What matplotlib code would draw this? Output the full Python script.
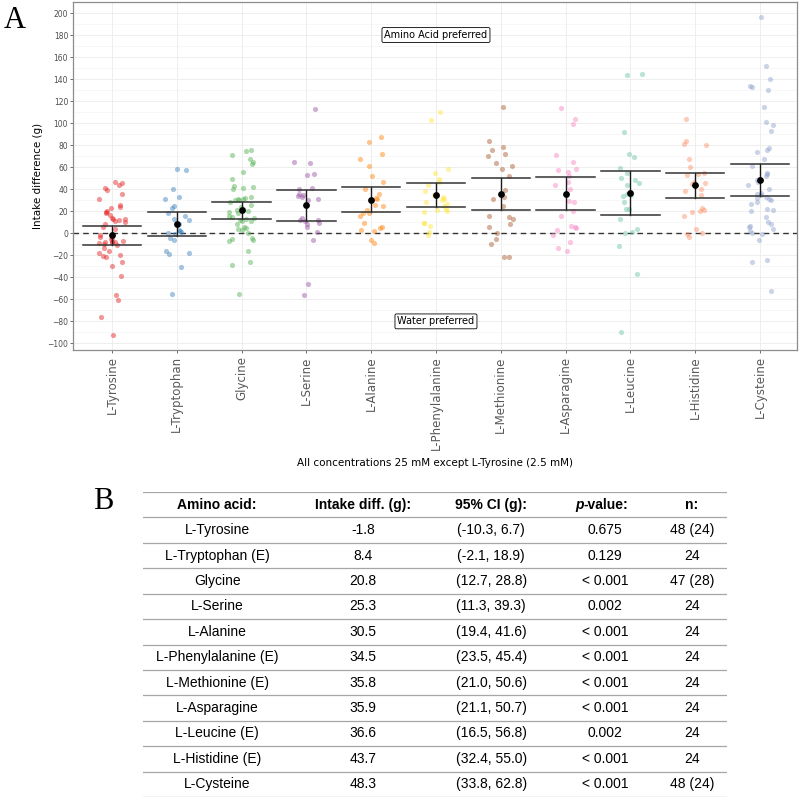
import numpy as np
import matplotlib
matplotlib.use('Agg')
import matplotlib.pyplot as plt
from matplotlib.ticker import MultipleLocator

# ---- data ----
amino = ['L-Tyrosine', 'L-Tryptophan', 'Glycine', 'L-Serine', 'L-Alanine', 'L-Phenylalanine',
         'L-Methionine', 'L-Asparagine', 'L-Leucine', 'L-Histidine', 'L-Cysteine']
amino_table = ['L-Tyrosine', 'L-Tryptophan (E)', 'Glycine', 'L-Serine', 'L-Alanine',
               'L-Phenylalanine (E)', 'L-Methionine (E)', 'L-Asparagine', 'L-Leucine (E)',
               'L-Histidine (E)', 'L-Cysteine']
intake_diff = [-1.8, 8.4, 20.8, 25.3, 30.5, 34.5, 35.8, 35.9, 36.6, 43.7, 48.3]
ci_low = [-10.3, -2.1, 12.7, 11.3, 19.4, 23.5, 21.0, 21.1, 16.5, 32.4, 33.8]
ci_high = [6.7, 18.9, 28.8, 39.3, 41.6, 45.4, 50.6, 50.7, 56.8, 55.0, 62.8]
p_values = ['0.675', '0.129', '< 0.001', '0.002', '< 0.001', '< 0.001', '< 0.001',
            '< 0.001', '0.002', '< 0.001', '< 0.001']
n_text = ['48 (24)', '24', '47 (28)', '24', '24', '24', '24', '24', '24', '24', '48 (24)']

tyrosine = [47, 46, 44, 41, 39, 36, 31, 26, 24, 23, 20, 19, 18, 17, 14, 13, 13, 12, 11, 10,
            8, 6, 4, -2, -3, -4, -5, -7, -8, -8, -8, -8, -9, -10, -11, -13, -16, -18, -20,
            -21, -22, -26, -30, -39, -56, -61, -76, -92]
tryptophan = [58, 57, 40, 33, 31, 25, 23, 18, 16, 13, 12, 8, 3, 2, 1, 0, -1, -4, -6, -16,
              -18, -19, -31, -55]
glycine = [76, 75, 71, 67, 65, 63, 56, 49, 43, 42, 41, 40, 33, 32, 31, 31, 30, 30, 28, 26,
           24, 22, 21, 20, 19, 18, 16, 15, 14, 13, 12, 11, 11, 8, 6, 5, 4, 3, 0, -4, -5,
           -6, -7, -16, -26, -29, -55]
serine = [113, 65, 64, 54, 53, 41, 40, 36, 35, 34, 33, 31, 30, 14, 12, 12, 11, 9, 8, 6, 1,
          -6, -46, -56]
alanine = [87, 83, 72, 67, 61, 52, 47, 40, 36, 32, 31, 26, 25, 21, 18, 18, 16, 9, 6, 5, 3,
           2, -6, -9]
phenylalanine = [110, 103, 58, 55, 49, 47, 44, 38, 35, 33, 31, 30, 28, 27, 25, 22, 21, 20,
                 19, 9, 9, 7, 1, -2]
methionine = [115, 84, 78, 76, 72, 70, 64, 61, 58, 52, 39, 33, 31, 25, 16, 15, 13, 8, 6, 0,
              -5, -10, -22, -22]
asparagine = [114, 104, 99, 71, 65, 58, 57, 56, 52, 47, 44, 40, 29, 28, 20, 16, 7, 6, 5, 3,
              -2, -8, -13, -16]
leucine = [145, 144, 92, 72, 69, 59, 55, 50, 48, 46, 44, 36, 35, 34, 28, 22, 22, 13, 4, 1,
           0, -12, -37, -90]
histidine = [104, 84, 81, 80, 67, 60, 55, 54, 53, 47, 46, 45, 40, 38, 35, 23, 21, 20, 19,
             16, 4, 0, -1, -3]
cysteine = [196, 152, 140, 134, 133, 130, 115, 101, 98, 93, 77, 76, 74, 67, 61, 55, 54, 52,
            49, 48, 47, 44, 40, 37, 36, 35, 33, 32, 31, 30, 28, 27, 22, 21, 20, 15, 10, 8,
            7, 6, 4, 2, 0, -1, -6, -24, -26, -52]
groups = [tyrosine, tryptophan, glycine, serine, alanine, phenylalanine, methionine,
          asparagine, leucine, histidine, cysteine]

colors = ['#E41A1C', '#377EB8', '#4DAF4A', '#984EA3', '#FF7F00', '#FFE433',
          '#A65628', '#F781BF', '#66C2A5', '#FC8D62', '#8DA0CB']

# ---- figure ----
fig = plt.figure(figsize=(8, 8), dpi=100)
ax = fig.add_axes([73/800, 1 - 350/800, 724/800, 348/800])

rng = np.random.default_rng(7)
for i, vals in enumerate(groups):
    jit = rng.uniform(-0.2, 0.2, len(vals))
    ax.scatter(i + jit, vals, s=14, color=colors[i], alpha=0.45, linewidths=0, zorder=3)

xs = np.arange(len(amino))
for i in xs:
    ax.plot([i, i], [ci_low[i], ci_high[i]], color='#1a1a1a', lw=1, zorder=4)
    ax.plot([i - 0.45, i + 0.45], [ci_low[i], ci_low[i]], color='#333333', lw=1.1, zorder=4)
    ax.plot([i - 0.45, i + 0.45], [ci_high[i], ci_high[i]], color='#333333', lw=1.1, zorder=4)
ax.scatter(xs, intake_diff, s=15, color='black', zorder=5)

ax.axhline(0, color='#333333', lw=1, ls=(0, (4, 3)), zorder=2)

ax.set_xlim(-0.6, 10.57)
ax.set_ylim(-106, 210)
ax.set_xticks(xs)
ax.set_xticklabels(amino, rotation=90, fontsize=8.5, color='#595959')
ax.yaxis.set_major_locator(MultipleLocator(20))
ax.yaxis.set_minor_locator(MultipleLocator(10))
ax.tick_params(axis='y', labelsize=5.5, labelcolor='#4d4d4d', length=2.5, width=0.5,
               color='#333333', pad=1)
ax.tick_params(axis='y', which='minor', length=0)
ax.tick_params(axis='x', length=2.5, width=0.5, color='#333333', pad=2)
ax.grid(which='major', color='#EBEBEB', lw=0.6, zorder=0)
ax.grid(which='minor', axis='y', color='#F2F2F2', lw=0.4, zorder=0)
ax.set_axisbelow(True)
for sp in ax.spines.values():
    sp.set_color('#8c8c8c')
    sp.set_linewidth(0.9)

ax.set_ylabel('Intake difference (g)', fontsize=7.5, labelpad=3)
ax.set_xlabel('All concentrations 25 mM except L-Tyrosine (2.5 mM)', fontsize=7.5, labelpad=6)

box = dict(boxstyle='round,pad=0.25,rounding_size=0.15', fc='white', ec='black', lw=0.6)
ax.text(5, 180, 'Amino Acid preferred', ha='center', va='center', fontsize=7, bbox=box, zorder=6)
ax.text(5, -80, 'Water preferred', ha='center', va='center', fontsize=7, bbox=box, zorder=6)

fig.text(15/800, 1 - 20/800, 'A', fontsize=22, family='Liberation Serif', ha='center', va='center')
fig.text(103/800, 1 - 502/800, 'B', fontsize=22, family='Liberation Serif', ha='center', va='center')

# ---- table ----
tab = fig.add_axes([143/800, 1 - 797/800, 584/800, 305/800])
tab.set_xlim(0, 1)
tab.set_ylim(12, 0)
tab.axis('off')
col_x = [0.127, 0.377, 0.596, 0.791, 0.940]
tf = 'Liberation Sans'
fs = 10
for k in range(13):
    tab.axhline(k, color='#a6a6a6', lw=0.9)
hdr_y = 0.5
tab.text(col_x[0], hdr_y, 'Amino acid:', ha='center', va='center', fontsize=fs, weight='bold', family=tf)
tab.text(col_x[1], hdr_y, 'Intake diff. (g):', ha='center', va='center', fontsize=fs, weight='bold', family=tf)
tab.text(col_x[2], hdr_y, '95% CI (g):', ha='center', va='center', fontsize=fs, weight='bold', family=tf)
tab.text(col_x[3] - 0.037, hdr_y, 'p', ha='right', va='center', fontsize=fs, weight='bold',
         style='italic', family=tf)
tab.text(col_x[3] - 0.037, hdr_y, '-value:', ha='left', va='center', fontsize=fs, weight='bold', family=tf)
tab.text(col_x[4], hdr_y, 'n:', ha='center', va='center', fontsize=fs, weight='bold', family=tf)
for r in range(len(amino_table)):
    y = r + 1.5
    row = [amino_table[r], '%.1f' % intake_diff[r],
           '(%.1f, %.1f)' % (ci_low[r], ci_high[r]), p_values[r], n_text[r]]
    for c, t in enumerate(row):
        tab.text(col_x[c], y, t, ha='center', va='center', fontsize=fs, family=tf)

fig.savefig('out.png', dpi=100)
